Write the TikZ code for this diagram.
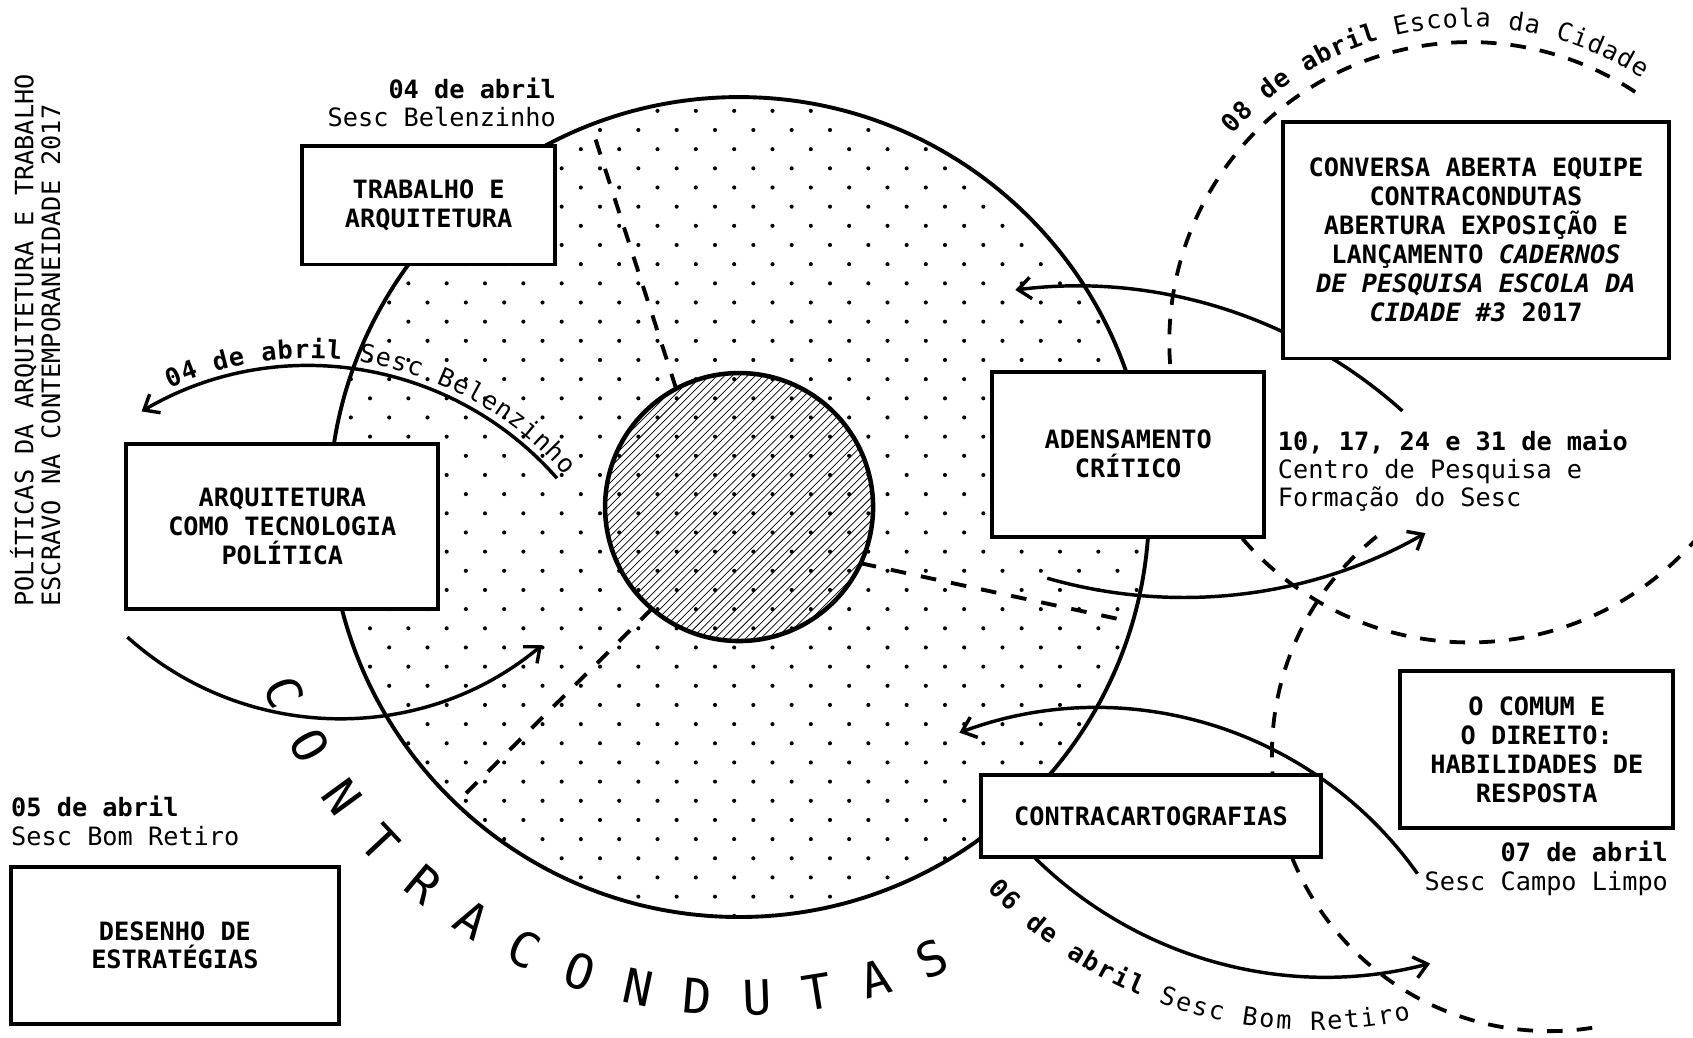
\documentclass[tikz,border=0pt]{standalone}
\usepackage{fontspec}
\setmainfont{DejaVu Sans Mono}
\usetikzlibrary{arrows.meta, calc, decorations.text}

\begin{document}
\begin{tikzpicture}[
  x=1pt, y=1pt,
  box/.style={draw, line width=3.6pt, fill=white, inner sep=0pt, align=center,
    font=\fontsize{23.4}{26.8}\selectfont\bfseries},
  datetxt/.style={inner sep=0pt, font=\fontsize{23.4}{26}\selectfont\bfseries},
  placetxt/.style={inner sep=0pt, font=\fontsize{23.4}{26}\selectfont},
  ring/.style={line width=3.6pt},
  spoke/.style={line width=3.6pt, dash pattern=on 14.5pt off 14pt},
  orbit/.style={line width=3.5pt, dash pattern=on 14.5pt off 13pt},
  arr/.style={-{Straight Barb[length=12pt, width=20pt]}, line width=3.2pt},
  hatch/.style={line width=0.7pt},
  bigletter/.style={inner sep=0pt, font=\fontsize{44.5}{50}\selectfont}
]
\fill[white] (0,0) rectangle (1568,-961);
\useasboundingbox (0,0) rectangle (1568,-961);

\coordinate (ctr) at (684.5,-469.6);
\coordinate (orbA) at (1361,-317);
\coordinate (orbB) at (1435,-698);

% Dotted field and hatched core
\begin{scope}
  \clip (ctr) circle (379.7);
  \foreach \j in {-14,...,30}
    \foreach \i in {-9,...,14}
      \fill ({555.7+35.5*\i-17.75*Mod(\j,2)},{-333.4-17.75*\j}) circle (1.9);
\end{scope}
\begin{scope}
  \clip (ctr) circle (124.1);
  \foreach \k in {-26,...,26}
    \draw[hatch] ([shift={(\k*7.1-140,-140)}]ctr) -- ++(280,280);
\end{scope}
\draw[ring] (ctr) circle (379.7);
\draw[ring, line width=4.2pt] (ctr) circle (124.1);

% Spokes
\coordinate (s1in) at ($(ctr)+(118:124.1)$);
\coordinate (s1out) at ($(ctr)+(111.2:379.7)$);
\coordinate (s2in) at ($(ctr)+(-24.8:124.1)$);
\coordinate (s2out) at ($(ctr)+(-16.3:379.7)$);
\coordinate (s3in) at ($(ctr)+(229.4:124.1)$);
\coordinate (s3out) at ($(ctr)+(226.3:379.7)$);
\draw[spoke] (s1in) -- (s1out);
\draw[spoke] (s2in) -- (s2out);
\draw[spoke] (s3in) -- (s3out);

% Dashed orbits
\coordinate (orbAs) at ($(orbA)+(56.5:278)$);
\coordinate (orbBs) at ($(orbB)+(128.5:257)$);
\draw[orbit] (orbAs) arc[start angle=56.5, end angle=318.4, radius=278];
\draw[orbit] (orbBs) arc[start angle=128.5, end angle=279.2, radius=257];

% Arrows
\coordinate (belS) at ($(286,-644.9)+(41.3:306)$);
\coordinate (bomS) at ($(314.3,-372)+(228:293.4)$);
\coordinate (escS) at ($(997,-717)+(48.1:452)$);
\coordinate (cenS) at ($(1095.6,-100)+(253.9:453.3)$);
\coordinate (limS) at ($(1015.6,-1020.3)+(35.4:364.6)$);
\coordinate (retS) at ($(1227.7,-520.7)+(222:384)$);
\draw[arr] (belS) arc[start angle=41.3, end angle=120.4, radius=306];
\draw[arr] (bomS) arc[start angle=228, end angle=309.8, radius=293.4];
\draw[arr] (escS) arc[start angle=48.1, end angle=97.2, radius=452];
\draw[arr] (cenS) arc[start angle=253.9, end angle=299.7, radius=453.3];
\draw[arr] (limS) arc[start angle=35.4, end angle=110.4, radius=364.6];
\draw[arr] (retS) arc[start angle=222, end angle=284.6, radius=384];

% Boxes
\node[box, minimum width=234pt, minimum height=110pt] (trab) at (397,-190) {TRABALHO E\\ARQUITETURA};
\node[box, minimum width=289pt, minimum height=153pt] (arq) at (261.5,-487.5) {ARQUITETURA\\COMO TECNOLOGIA\\POLÍTICA};
\node[box, minimum width=251.7pt, minimum height=152.8pt] (aden) at (1044.9,-420.6) {ADENSAMENTO\\CRÍTICO};
\node[box, minimum width=357pt, minimum height=219.3pt] (conv) at (1367,-222.4)
  {CONVERSA ABERTA EQUIPE\\CONTRACONDUTAS\\ABERTURA EXPOSIÇÃO E\\LANÇAMENTO \textit{CADERNOS}\\\textit{DE PESQUISA ESCOLA DA}\\\textit{CIDADE \#3} 2017};
\node[box, minimum width=315pt, minimum height=75.7pt] (cart) at (1066,-755.7) {CONTRACARTOGRAFIAS};
\node[box, minimum width=252.6pt, minimum height=145.5pt] (comum) at (1423.3,-694.3) {O COMUM E\\O DIREITO:\\HABILIDADES DE\\RESPOSTA};
\node[box, minimum width=304pt, minimum height=145pt] (desenho) at (162,-875.5) {DESENHO DE\\ESTRATÉGIAS};

% Dates and places
\node[datetxt, anchor=base east] (trabd) at (515,-91) {04 de abril};
\node[placetxt, anchor=base east] (trabp) at ([yshift=-26.3pt]trabd.base east) {Sesc Belenzinho};
\node[datetxt, anchor=base west] (desd) at (10.2,-756.4) {05 de abril};
\node[placetxt, anchor=base west] (desp) at ([yshift=-26.2pt]desd.base west) {Sesc Bom Retiro};
\node[datetxt, anchor=base west] (adend) at (1183.4,-416.8) {10, 17, 24 e 31 de maio};
\node[placetxt, anchor=base west] (adenp) at ([yshift=-26.2pt]adend.base west) {Centro de Pesquisa e};
\node[placetxt, anchor=base west] (adenq) at ([yshift=-26.2pt]adenp.base west) {Formação do Sesc};
\node[datetxt, anchor=base east] (comd) at (1545,-798) {07 de abril};
\node[placetxt, anchor=base east] (comp) at ([yshift=-26.3pt]comd.base east) {Sesc Campo Limpo};

% Title
\node[placetxt, rotate=90, anchor=base west] (titA) at (31,-562) {POLÍTICAS DA ARQUITETURA E TRABALHO};
\node[placetxt, rotate=90, anchor=base west] (titB) at (55.6,-562) {ESCRAVO NA CONTEMPORANEIDADE 2017};

% Curved labels
\path[decorate, decoration={text along path, text align=fit to path,
  text={|\fontsize{23.4}{26}\selectfont\bfseries|04 de abril |\fontsize{23.4}{26}\selectfont\mdseries|Sesc Belenzinho}}]
  ($(286,-644.9)+(114.3:313)$) arc[start angle=114.3, end angle=40.8, radius=313];
\path[decorate, decoration={text along path, text align=fit to path,
  text={|\fontsize{23.4}{26}\selectfont\bfseries|08 de abril |\fontsize{23.4}{26}\selectfont\mdseries|Escola da Cidade}}]
  ($(orbA)+(138.8:292)$) arc[start angle=138.8, end angle=56.9, radius=292];
\path[decorate, decoration={text along path, text align=fit to path,
  text={|\fontsize{23.4}{26}\selectfont\bfseries|06 de abril |\fontsize{23.4}{26}\selectfont\mdseries|Sesc Bom Retiro}}]
  ($(1215,-541)+(223.2:413)$) arc[start angle=223.2, end angle=282.8, radius=413];

% CONTRACONDUTAS
\foreach \ch [count=\k from 0] in {C,O,N,T,R,A,C,O,N,D,U,T,A,S}
  \node[bigletter, rotate=292.1+7*\k] (ltr\k) at ($(ctr)+({202.1+7*\k}:455)$) {\ch};
\end{tikzpicture}
\end{document}
